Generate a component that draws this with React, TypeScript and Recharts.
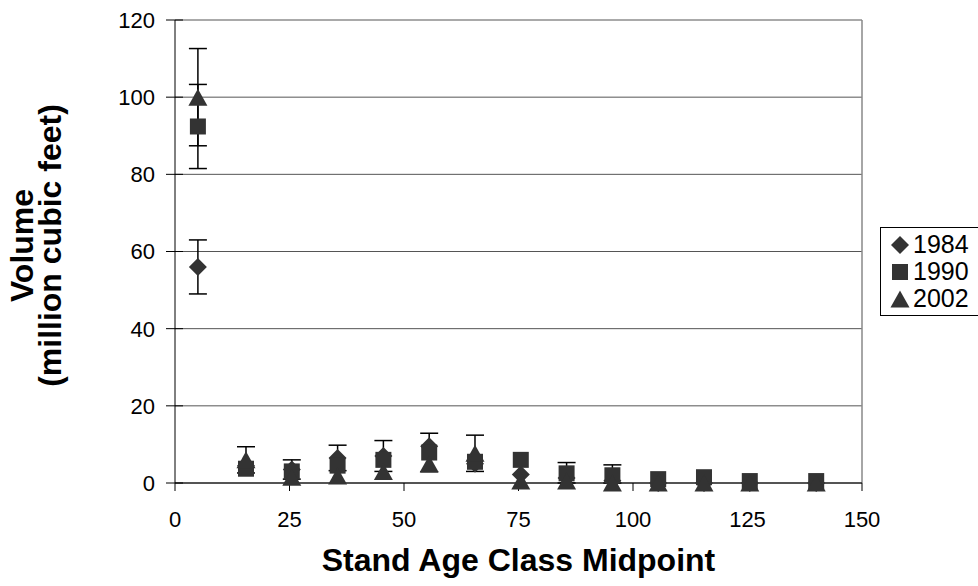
import { ScatterChart, Scatter, XAxis, YAxis, CartesianGrid, ErrorBar, Legend, ReferenceLine } from 'recharts'

const ageMidpoints = [5, 15.5, 25.5, 35.5, 45.5, 55.5, 65.5, 75.5, 85.5, 95.5, 105.5, 115.5, 125.5, 140]

const vol1984 = [56, 4.5, 3.5, 6.5, 7, 9.5, 5, 2.2, 1.3, 0.6, 0, 0, 0, 0]
const err1984 = [7, 0, 2.5, 3.3, 4, 0, 0, 0, 0, 0, 0, 0, 0, 0]

const vol1990 = [92.4, 3.7, 3, 4.5, 6, 7.9, 5.5, 6, 2.5, 2, 1, 1.5, 0.5, 0.5]
const err1990 = [10.9, 0, 0, 0, 0, 5, 0, 0, 2.8, 2.7, 0, 0, 0, 0]

const vol2002 = [100, 6, 1.5, 1.8, 3, 5, 7.7, 0.5, 0.5, 0, 0, 0, 0, 0]
const err2002 = [12.6, 3.4, 0, 0, 0, 0, 4.7, 0, 0, 0, 0, 0, 0, 0]

const xTicks = [0, 25, 50, 75, 100, 125, 150]
const yTicks = [0, 20, 40, 60, 80, 100, 120]
const seriesNames = ['1984', '1990', '2002']

const FONT = '"Liberation Sans", Arial, sans-serif'
const MARK = '#333333'

// lower whisker stops at zero (the rest is hidden under the axis in the original)
const toPoints = (ys: number[], errs: number[]) =>
  ageMidpoints.map((x, i) => ({
    x,
    y: ys[i],
    err: errs[i] ? [Math.min(errs[i], ys[i]), errs[i]] : 0,
  }))

const data1984 = toPoints(vol1984, err1984)
const data1990 = toPoints(vol1990, err1990)
const data2002 = toPoints(vol2002, err2002)

interface ShapeProps {
  cx?: number
  cy?: number
  [key: string]: unknown
}

function Diamond({ cx = 0, cy = 0 }: ShapeProps) {
  const r = 9
  return <polygon points={`${cx},${cy - r} ${cx + r},${cy} ${cx},${cy + r} ${cx - r},${cy}`} fill={MARK} />
}

function Square({ cx = 0, cy = 0 }: ShapeProps) {
  const s = 8
  return <rect x={cx - s} y={cy - s} width={s * 2} height={s * 2} fill={MARK} />
}

function Triangle({ cx = 0, cy = 0 }: ShapeProps) {
  const w = 9.5
  const h = 8.5
  return <polygon points={`${cx},${cy - h} ${cx + w},${cy + h} ${cx - w},${cy + h}`} fill={MARK} />
}

const icons = [Diamond, Square, Triangle]

// y ticks in the original cross the axis line
function YTick(props: any) {
  const { x, y, payload } = props
  const axisX = x + 20
  return (
    <g>
      <line x1={axisX - 9} x2={axisX + 8} y1={y} y2={y} stroke="#000" strokeWidth={1} />
      <text x={x} y={y} dy="0.36em" textAnchor="end" fontSize={22} fontFamily={FONT} fill="#000">
        {payload.value}
      </text>
    </g>
  )
}

function LegendBox() {
  return (
    <div
      style={{
        border: '1px solid #000',
        background: '#fff',
        padding: '3px 14px 3px 8px',
        fontFamily: FONT,
        fontSize: 25,
        lineHeight: '27px',
        width: 110,
      }}
    >
      {seriesNames.map((name, i) => {
        const Icon = icons[i]
        return (
          <div key={name} style={{ display: 'flex', alignItems: 'center' }}>
            <svg width={22} height={22} style={{ marginRight: 2 }}>
              <Icon cx={11} cy={11} />
            </svg>
            <span>{name}</span>
          </div>
        )
      })}
    </div>
  )
}

export default function App() {
  return (
    <div style={{ position: 'absolute', left: 0, top: 0, background: '#fff' }}>
      <ScatterChart width={978} height={586} margin={{ top: 20, right: 116, bottom: 43, left: 115 }}>
        <CartesianGrid vertical={false} stroke="#555" strokeWidth={1} />
        <ReferenceLine x={150} stroke="#888" strokeWidth={1.5} />
        <XAxis
          type="number"
          dataKey="x"
          domain={[0, 150]}
          ticks={xTicks}
          height={60}
          tickSize={8}
          tickMargin={20}
          stroke="#000"
          tick={{ fontSize: 22, fontFamily: FONT, fill: '#000' }}
          label={{
            content: (p: any) => {
              const vb = p.viewBox
              return (
                <text
                  x={vb.x + vb.width / 2}
                  y={vb.y + 88}
                  textAnchor="middle"
                  fontSize={32}
                  fontWeight="bold"
                  fontFamily={FONT}
                  fill="#000"
                >
                  Stand Age Class Midpoint
                </text>
              )
            },
          }}
        />
        <YAxis
          type="number"
          dataKey="y"
          domain={[0, 120]}
          ticks={yTicks}
          width={60}
          tickSize={8}
          tickMargin={12}
          tickLine={false}
          stroke="#000"
          tick={<YTick />}
          label={{
            content: (p: any) => {
              const vb = p.viewBox
              const cy = vb.y + vb.height / 2 - 6
              return (
                <text
                  transform={`translate(0, ${cy}) rotate(-90)`}
                  textAnchor="middle"
                  fontSize={32}
                  fontWeight="bold"
                  fontFamily={FONT}
                  fill="#000"
                >
                  <tspan x={0} y={33}>Volume</tspan>
                  <tspan x={0} y={61}>(million cubic feet)</tspan>
                </text>
              )
            },
          }}
        />
        <Legend
          layout="horizontal"
          align="center"
          verticalAlign="middle"
          wrapperStyle={{ left: 880, top: 227, width: 'auto' }}
          content={() => <LegendBox />}
        />
        <Scatter name="1984" data={data1984} shape={<Diamond />} isAnimationActive={false}>
          <ErrorBar dataKey="err" direction="y" width={9} stroke="#000" strokeWidth={1.5} />
        </Scatter>
        <Scatter name="1990" data={data1990} shape={<Square />} isAnimationActive={false}>
          <ErrorBar dataKey="err" direction="y" width={9} stroke="#000" strokeWidth={1.5} />
        </Scatter>
        <Scatter name="2002" data={data2002} shape={<Triangle />} isAnimationActive={false}>
          <ErrorBar dataKey="err" direction="y" width={9} stroke="#000" strokeWidth={1.5} />
        </Scatter>
      </ScatterChart>
    </div>
  )
}
